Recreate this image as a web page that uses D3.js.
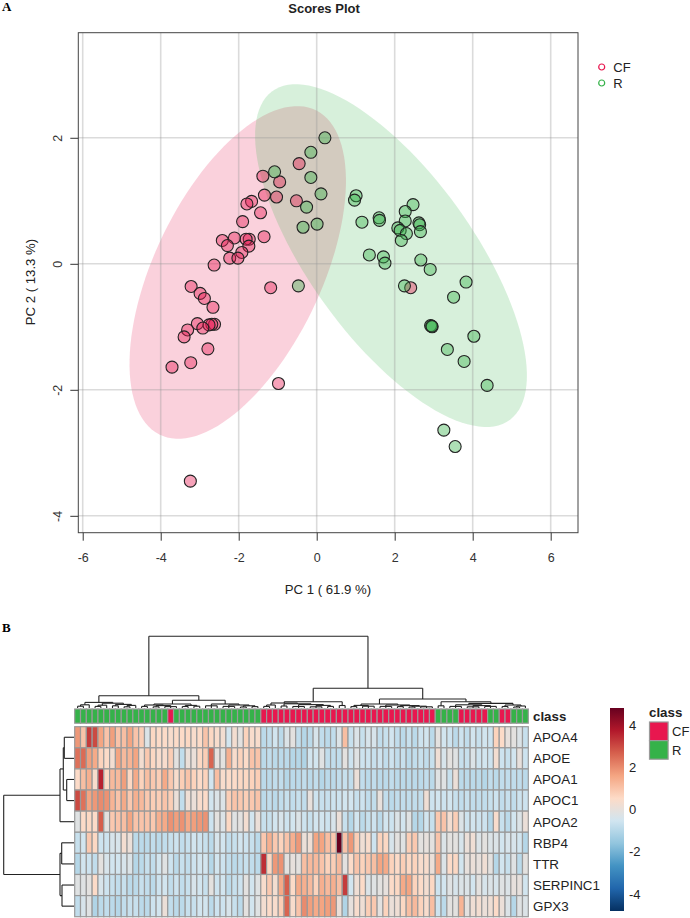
<!DOCTYPE html>
<html>
<head>
<meta charset="utf-8">
<style>
    html, body { margin: 0; padding: 0; background: #fff; }
    svg { display: block; }
    text { font-family: "Liberation Sans", Arial, sans-serif; fill: #222; }
    .panel { font-family: "Liberation Serif", serif; font-weight: bold; font-size: 13px; fill: #000; }
    .axis path { display: none; }
    .axis line { stroke: #333; }
    .axis text { font-size: 12.5px; font-family: "Liberation Sans", Arial, sans-serif; fill: #333; }
    .dendro path { fill: none; stroke: #222; stroke-width: 1.1px; }
</style>
<script src="https://d3js.org/d3.v7.min.js"></script>
</head>
<body>
<svg width="690" height="918"></svg>
<script>
    // scores plot
    var xTicks = [-6, -4, -2, 0, 2, 4, 6];
    var yTicks = [-4, -2, 0, 2];
    var classNames = ["CF", "R"];

    var cfX = [-1.38, -0.95, -0.45, -1.34, -1.03, -0.52, -1.67, -1.79, -1.44, -1.90, -1.35, -2.42, -2.11,
        -1.73, -1.81, -2.29, -1.74, -1.92, -2.23, -2.02, -2.63, -3.22, -1.18, -2.99, -2.88, -2.66, -3.06,
        -2.62, -2.69, -2.76, -2.92, -3.31, -3.40, -2.79, -3.23, -3.71, -0.98, -3.24, 2.41];
    var cfY = [1.39, 1.30, 1.59, 1.09, 1.06, 1.00, 0.99, 0.95, 0.81, 0.67, 0.43, 0.37, 0.41,
        0.39, 0.39, 0.29, 0.28, 0.18, 0.09, 0.09, -0.02, -0.36, -0.38, -0.47, -0.55, -0.69, -0.95,
        -0.96, -0.96, -0.97, -1.02, -1.05, -1.16, -1.35, -1.57, -1.64, -1.90, -3.45, -0.38];
    var rX = [-1.08, 0.21, -0.15, -0.15, 0.11, -0.26, 0.01, -0.35, -0.47, 1.01, 0.97, 1.16, 1.60, 1.61,
        2.47, 2.27, 2.27, 2.62, 2.64, 2.66, 2.08, 2.14, 2.30, 2.17, 1.35, 1.71, 1.75, 2.67, 2.91, 2.25,
        3.83, 3.51, 2.92, 2.96, 2.95, 4.03, 3.35, 3.78, 4.37, 3.26, 3.55];
    var rY = [1.46, 2.00, 1.77, 1.37, 1.11, 0.90, 0.63, 0.58, -0.35, 1.08, 1.01, 0.66, 0.73, 0.69,
        0.94, 0.83, 0.68, 0.65, 0.62, 0.51, 0.57, 0.53, 0.48, 0.37, 0.14, 0.11, 0.01, 0.06, -0.09, -0.35,
        -0.29, -0.53, -0.98, -1.00, -0.99, -1.15, -1.36, -1.55, -1.93, -2.64, -2.90];

    // confidence ellipses: centre x, centre y, half width, half height, correlation
    var cfEllipse = [-2.025, -0.137, 2.775, 2.64, 0.55];
    var rEllipse = [1.905, 0.13, 3.485, 2.72, -0.7];

    // heatmap
    var genes = ["APOA4", "APOE", "APOA1", "APOC1", "APOA2", "RBP4", "TTR", "SERPINC1", "GPX3"];
    var classRuns = [["R", 16], ["CF", 1], ["R", 15], ["CF", 30], ["R", 4], ["CF", 5], ["R", 2], ["CF", 2], ["R", 3]];
    var legendTicks = [4, 2, 0, -2, -4];
    var rdbu = ["#053061", "#2166AC", "#4393C3", "#92C5DE", "#D1E5F0", "#FDDBC7", "#F4A582", "#D6604D", "#B2182B", "#67001F"];

    var apoa4 = [1.8,1.0,3.2,3.0,1.6,1.0,1.7,1.0,1.1,1.6,
        1.0,.8,-.3,.6,.5,.5,.4,.5,.5,.6,
        .4,.5,1.0,.6,.4,.3,-.5,.3,-.1,.7,
        .4,.4,-.9,-.8,-.5,-.9,-.3,-.1,-.8,-1,
        -.9,-.4,-.8,-.9,-.8,-.3,1.1,-.7,-.3,-.7,
        -.4,-.4,-.8,-.7,-.5,-.8,-.9,-.7,-.9,-.6,
        -.5,-.9,-.1,-.5,-.6,-.9,-.6,-.8,-.5,-.7,
        -.5,-.6,.7,.5,0,-.1,-.3,-.7];
    var apoe = [2.4,2.5,1.7,1.5,.7,.5,.3,1.6,1.2,1.3,
        1.6,.3,.9,.6,.4,.4,.8,-.1,-.8,.1,
        .1,.6,.8,2.6,0,-.1,1.4,.4,.7,.5,
        1.0,1.0,-.9,-.8,-.9,-.9,-.9,-1,-1,-1.1,
        -.5,-.5,-.2,-.8,-.8,-.8,-.1,-.6,-.2,-.6,
        -.6,-.7,-.6,-.8,-.6,-.8,-.7,-.9,-.8,-.7,
        -.8,-.7,.2,-.4,-.1,-.2,-.7,-.7,-.3,-.6,
        -.5,-.6,.3,-.6,-.7,-.5,0,-.6];
    var apoa1 = [.5,1.1,1.4,.4,3.6,.6,1.2,1.2,1.7,.6,
        1.5,.7,1.1,.9,.8,1.5,.9,.4,.8,1.0,
        .7,.5,.7,-.5,1.1,.4,.5,.5,.6,.6,
        .7,.8,-.9,-.9,-.8,-.8,-1,-.9,-.9,-.8,
        -.9,-.8,-1,-.9,-.9,-.8,-.7,-.8,.1,-.8,
        -.9,-.8,-.9,-.9,-.8,-.9,-.9,-.9,-.9,-.9,
        -.8,-.9,-.2,-.2,-.7,.1,-.9,-.9,-.9,-.9,
        -1,-.8,-.9,-.8,-.8,-.8,-.8,-.9];
    var apoc1 = [3.0,2.4,1.6,1.8,2.0,1.9,1.3,1.0,1.5,.9,
        1.4,1.2,.9,.8,.8,1.0,.8,.1,-.8,.2,
        .1,.4,.5,-.5,-.3,-.3,.8,1.0,.9,.8,
        .9,1.0,-.9,-.8,-.9,-.8,-.7,-.8,-.7,-.8,
        0,-.6,-.7,-.7,-.6,-.6,-.5,-.5,-.7,-.6,
        -.8,-.8,0,-.8,-.9,-.8,-.8,-.8,-.8,-.8,
        .2,-.6,-.5,-.6,-.5,-.7,-.8,-.7,-.8,-.8,
        -.8,-.7,-.6,-.8,-.7,-.8,-.6,-.6];
    var apoa2 = [-.2,.5,.6,.5,2.7,-.1,.9,1.0,1.1,1.6,
        1.0,1.0,1.0,.9,1.4,1.5,1.9,1.7,1.9,1.5,
        1.7,1.8,1.9,-.6,-.1,-.3,.6,-.2,-.1,.3,
        -.5,.1,-.7,-.7,-.5,-.4,-.6,-.5,-.3,-.6,
        -.7,-.5,-.5,-.6,-.4,.1,-.7,-1,-.5,-.9,
        -.7,-.6,-.9,-.5,-.6,-.3,-.5,-.2,-1,-1,
        -.5,-.7,.9,1.0,.3,.8,-.3,-.6,-.5,-.6,
        -.6,-1,.4,-.7,-.9,-.5,-.3,.1];
    var rbp4 = [-.7,-.5,.9,.6,-.6,-.6,-.4,-.4,.3,.1,
        -.9,-.9,-.9,-.8,-.9,-.8,-.7,-.6,-.8,-.7,
        -.5,-.6,-.7,-.9,-.4,-.5,-.8,-.7,-.5,-.6,
        -.7,-.9,.9,1.4,.9,.7,1.0,1.4,1.8,.1,
        .2,1.6,1.6,1.1,.9,4.8,1.0,1.8,.8,.2,
        .4,-.6,.7,.6,-.4,-.1,-.2,.8,.9,-.1,
        0,-.1,1.0,-.3,-.1,-.1,-.4,.1,.2,-.3,
        -.1,-.3,-.3,-.5,-.4,-.4,-.5,-1];
    var ttr = [-1,-.5,-.6,-.8,-.1,-.4,-.5,-.5,-.4,-.3,
        -1,-.9,-.7,-.8,-.5,-.2,-.6,-.9,-.7,-.8,
        -.6,-.5,-.5,-1,-.5,-.6,-.8,-.9,-.8,-.7,
        -.8,-.9,3.4,.6,1.8,1.9,-.1,0,-.1,1.1,
        1.2,1.2,1.0,.7,.8,1.2,-.1,.5,1.0,.7,
        .9,1.1,1.6,1.5,.7,.5,.8,.6,.7,.4,
        .4,.1,1.5,-.3,.5,.6,-.5,0,.1,0,
        .2,-.1,-1,-.5,-.7,-.2,-.9,-.1];
    var serpinc1 = [-.2,-.2,-.1,.5,-.4,-.6,-.7,-.8,-.7,-.9,
        -.9,-.7,-.8,-.9,-.6,-.5,-.8,-.6,-.8,-.7,
        -.4,-.5,-.7,-.1,-.6,-.5,-.9,-.7,-.6,-.1,
        -.5,-.2,.4,.9,.3,1.5,2.7,.5,1.5,1.4,
        1.2,.7,1.4,1.2,1.4,1.1,3.2,-.5,.2,.5,
        -.3,-.2,-.1,0,.5,.6,1.5,1.6,.7,.5,
        .3,.6,-.6,-.5,-.2,-.4,-.3,-.3,-.5,-.1,
        -.4,-.3,-.4,-.2,-.3,0,0,-.5];
    var gpx3 = [-.8,-.4,-.2,-1.1,-.9,-.8,-.9,-1,-.8,-.7,
        -.7,-.9,-.9,-.6,-.5,.1,-.8,-.9,-.9,-.7,
        -.7,-.5,-.5,-.9,-.6,-.6,-.4,-.7,-.9,-.1,
        -.5,-.2,.3,.5,.4,.8,2.6,.4,1.0,2.0,
        1.7,1.5,1.6,1.7,1.8,.1,-1.1,0,.4,.2,
        .8,.9,-.1,.7,.1,.2,.6,1.1,1.2,.7,
        .4,1.1,-.6,-.9,-.1,-.1,1.3,-.1,.2,.3,
        .1,.2,.5,.1,-.3,-1,-.2,-.3];
    var heat = [apoa4, apoe, apoa1, apoc1, apoa2, rbp4, ttr, serpinc1, gpx3];

    // dendrograms: [height, child, child, ...], a plain number n means n leaves on that node
    var colTree = [71.7,
        [12.3,
            [5.6, [3.2, [1.8, 2], 1],
                [4.8, [2.8, [1.6, 2], 1], [3.6, [2.2, 2], [2.6, [1.2, 2], 1]]]],
            [7.7,
                [4, [3, [1.6, 2], [2.4, [1.2, 2], [1.4, 3]]], [2.6, [1.5, 2], [1.8, 2]]],
                [4, [2.2, 3], [3, [1.6, 3], [2.2, [1, 2], [1.4, 2]]]]]],
        [19.7,
            [6.3,
                [5, [3, [1.6, 2], 1],
                    [4.2, [2, 2], [3.4, [1.5, 3], [2.6, [1.2, 3], [1.6, 2]]]]],
                [2.5, 2]],
            [9,
                [4, [2.6, [1.4, 2], [1.8, 3]],
                    [3, [1.6, 3], [2.4, [1.4, 2], [1.8, [1, 2], [1.2, 3]]]]],
                [6.3, [2.2, 2],
                    [4.6, [3.2, [1.6, 3], [2.4, [1.2, 3], [1.6, 3]]],
                        [3, [1.5, 2], [2, [1, 2], 1]]]]]]];
    var rowTree = [70.3,
        [14, [10.7, [9.7, 2], [7.3, 2]], 1],
        [14, [12.3, 2], [12, 2]]];

    var svg = d3.select("svg");

    svg.append("text").attr("class", "panel").attr("x", 2).attr("y", 11).text("A");
    svg.append("text").attr("class", "panel").attr("x", 2).attr("y", 632).text("B");

    //************************* scores plot

    var x = d3.scaleLinear().domain([-6.113, 6.7]).range([78.3, 578]);
    var y = d3.scaleLinear().domain([3.668, -4.268]).range([32.7, 532.7]);
    var colorCF = "#E8174F", colorR = "#35B249";

    function ellipsePath(e) {
        var d = Math.acos(e[4]);
        var pts = d3.range(0, 361, 3).map(function (deg) {
            var t = deg * Math.PI / 180;
            return [e[0] + e[2] * Math.cos(t + d / 2), e[1] + e[3] * Math.cos(t - d / 2)];
        });
        return d3.line().x(function (p) { return x(p[0]); }).y(function (p) { return y(p[1]); })(pts) + "Z";
    }

    var plot = svg.append("g");

    plot.append("path").attr("d", ellipsePath(cfEllipse)).attr("fill", colorCF).attr("fill-opacity", 0.2);
    plot.append("path").attr("d", ellipsePath(rEllipse)).attr("fill", colorR).attr("fill-opacity", 0.2);

    plot.selectAll(".gx").data(xTicks).enter().append("line")
        .attr("x1", x).attr("x2", x).attr("y1", y.range()[0]).attr("y2", y.range()[1])
        .attr("stroke", "#999").attr("stroke-opacity", 0.35).attr("stroke-width", 1.6);
    plot.selectAll(".gy").data(yTicks).enter().append("line")
        .attr("y1", y).attr("y2", y).attr("x1", x.range()[0]).attr("x2", x.range()[1])
        .attr("stroke", "#999").attr("stroke-opacity", 0.35).attr("stroke-width", 1.6);

    plot.selectAll(".cf").data(cfX).enter().append("circle")
        .attr("cx", function (d) { return x(d); })
        .attr("cy", function (d, i) { return y(cfY[i]); })
        .attr("r", 6).attr("fill", colorCF).attr("fill-opacity", 0.4)
        .attr("stroke", "#222").attr("stroke-width", 1.1);
    plot.selectAll(".r").data(rX).enter().append("circle")
        .attr("cx", function (d) { return x(d); })
        .attr("cy", function (d, i) { return y(rY[i]); })
        .attr("r", 6).attr("fill", colorR).attr("fill-opacity", 0.4)
        .attr("stroke", "#222").attr("stroke-width", 1.1);

    plot.append("rect").attr("x", x.range()[0]).attr("y", y.range()[0])
        .attr("width", x.range()[1] - x.range()[0]).attr("height", y.range()[1] - y.range()[0])
        .attr("fill", "none").attr("stroke", "#444").attr("stroke-width", 1);

    svg.append("g").attr("class", "axis")
        .attr("transform", "translate(0," + y.range()[1] + ")")
        .call(d3.axisBottom(x).tickValues(xTicks).tickSize(8).tickPadding(12).tickFormat(function (d) { return d; }));

    svg.append("g").attr("class", "axis")
        .attr("transform", "translate(" + x.range()[0] + ",0)")
        .call(d3.axisLeft(y).tickValues(yTicks).tickSize(8).tickPadding(0).tickFormat(function (d) { return d; }))
        .selectAll("text")
        .attr("transform", "translate(-21,0) rotate(-90)")
        .attr("x", 0).attr("y", 0).attr("dy", "0.35em").attr("text-anchor", "middle");

    svg.append("text").attr("x", 324).attr("y", 13).attr("text-anchor", "middle")
        .attr("font-size", 13).attr("font-weight", "bold").text("Scores Plot");
    svg.append("text").attr("x", 328).attr("y", 594).attr("text-anchor", "middle")
        .attr("font-size", 13.2).text("PC 1 ( 61.9 %)");
    svg.append("text").attr("transform", "translate(35,282) rotate(-90)").attr("text-anchor", "middle")
        .attr("font-size", 13.2).text("PC 2 ( 13.3 %)");

    var scoreLegend = svg.append("g").selectAll("g").data(classNames).enter().append("g")
        .attr("transform", function (d, i) { return "translate(601.7," + (67 + i * 16) + ")"; });
    scoreLegend.append("circle").attr("r", 3).attr("fill", "none").attr("stroke-width", 1.2)
        .attr("stroke", function (d, i) { return i ? colorR : colorCF; });
    scoreLegend.append("text").attr("x", 11.6).attr("dy", "0.36em").attr("font-size", 13).text(function (d) { return d; });

    //************************* heatmap

    var classes = [];
    classRuns.forEach(function (r) { d3.range(r[1]).forEach(function () { classes.push(r[0]); }); });

    var colScale = d3.scaleBand().domain(d3.range(78)).range([74.7, 528.3]);
    var rowScale = d3.scaleBand().domain(genes).range([726.7, 916.7]);
    var color = d3.scaleLinear()
        .domain(rdbu.map(function (c, i) { return -4.8 + 9.6 * i / 9; }))
        .range(rdbu);
    var classColor = d3.scaleOrdinal().domain(classNames).range([colorCF, colorR]);
    var borderGrey = "#9a9a9a";

    svg.append("g").selectAll("rect").data(classes).enter().append("rect")
        .attr("x", function (d, i) { return colScale(i); })
        .attr("y", 709).attr("width", colScale.bandwidth()).attr("height", 14.2)
        .attr("fill", function (d) { return classColor(d); })
        .attr("stroke", borderGrey).attr("stroke-width", 1.2);

    var rows = svg.append("g").selectAll("g").data(heat).enter().append("g")
        .attr("transform", function (d, i) { return "translate(0," + rowScale(genes[i]) + ")"; });
    rows.selectAll("rect").data(function (d) { return d; }).enter().append("rect")
        .attr("x", function (d, i) { return colScale(i); })
        .attr("width", colScale.bandwidth()).attr("height", rowScale.bandwidth())
        .attr("fill", function (d) { return color(d); })
        .attr("stroke", borderGrey).attr("stroke-width", 1.2);

    svg.append("g").selectAll("text").data(genes).enter().append("text")
        .attr("x", 533).attr("y", function (d) { return rowScale(d) + rowScale.bandwidth() / 2; })
        .attr("dy", "0.36em").attr("font-size", 13.4).text(function (d) { return d; });
    svg.append("text").attr("x", 533).attr("y", 716).attr("dy", "0.36em")
        .attr("font-size", 13.3).attr("font-weight", "bold").text("class");

    // walk a nested tree, leaf positions come from the band scales
    function treeSegments(node, nextLeaf, leafPos, segs) {
        var centers = [];
        node.slice(1).forEach(function (c) {
            if (typeof c === "number") {
                d3.range(c).forEach(function () {
                    centers.push({pos: leafPos(nextLeaf.i++), h: 0});
                });
            } else {
                centers.push(treeSegments(c, nextLeaf, leafPos, segs));
            }
        });
        var h = node[0];
        centers.forEach(function (c) { segs.push({pos: c.pos, h0: c.h, h1: h}); });
        var first = centers[0].pos, last = centers[centers.length - 1].pos;
        segs.push({p0: first, p1: last, h: h});
        return {pos: (first + last) / 2, h: h};
    }

    var colH = d3.scaleLinear().domain([0, 71.7]).range([708, 636.3]);
    var colSegs = [];
    treeSegments(colTree, {i: 0}, function (i) { return colScale(i) + colScale.bandwidth() / 2; }, colSegs);
    svg.append("g").attr("class", "dendro").selectAll("path").data(colSegs).enter().append("path")
        .attr("d", function (s) {
            return s.p0 !== undefined
                ? "M" + s.p0 + "," + colH(s.h) + "H" + s.p1
                : "M" + s.pos + "," + colH(s.h0) + "V" + colH(s.h1);
        });

    var rowH = d3.scaleLinear().domain([0, 70.3]).range([74, 3.7]);
    var rowSegs = [];
    treeSegments(rowTree, {i: 0}, function (i) { return rowScale(genes[i]) + rowScale.bandwidth() / 2; }, rowSegs);
    svg.append("g").attr("class", "dendro").selectAll("path").data(rowSegs).enter().append("path")
        .attr("d", function (s) {
            return s.p0 !== undefined
                ? "M" + rowH(s.h) + "," + s.p0 + "V" + s.p1
                : "M" + rowH(s.h0) + "," + s.pos + "H" + rowH(s.h1);
        });

    // colour bar
    var barScale = d3.scaleLinear().domain([4.8, -4.8]).range([708, 911]);
    var defs = svg.append("defs");
    var grad = defs.append("linearGradient").attr("id", "bar").attr("x1", 0).attr("x2", 0).attr("y1", 1).attr("y2", 0);
    grad.selectAll("stop").data(rdbu).enter().append("stop")
        .attr("offset", function (d, i) { return i / 9; })
        .attr("stop-color", function (d) { return d; });
    svg.append("rect").attr("x", 610).attr("y", 708).attr("width", 14).attr("height", 203).attr("fill", "url(#bar)");
    svg.append("g").selectAll("text").data(legendTicks).enter().append("text")
        .attr("x", 629).attr("y", function (d) { return barScale(d); })
        .attr("dy", "0.36em").attr("font-size", 13).text(function (d) { return d; });

    svg.append("text").attr("x", 649).attr("y", 712).attr("dy", "0.36em")
        .attr("font-size", 13.3).attr("font-weight", "bold").text("class");
    var classLegend = svg.append("g").selectAll("g").data(classNames).enter().append("g")
        .attr("transform", function (d, i) { return "translate(649.5," + (722 + i * 18.6) + ")"; });
    classLegend.append("rect").attr("width", 18.6).attr("height", 18.6)
        .attr("fill", function (d) { return classColor(d); })
        .attr("stroke", borderGrey).attr("stroke-width", 1.2);
    classLegend.append("text").attr("x", 22.5).attr("y", 9.3).attr("dy", "0.36em")
        .attr("font-size", 13).text(function (d) { return d; });
</script>
</body>
</html>
